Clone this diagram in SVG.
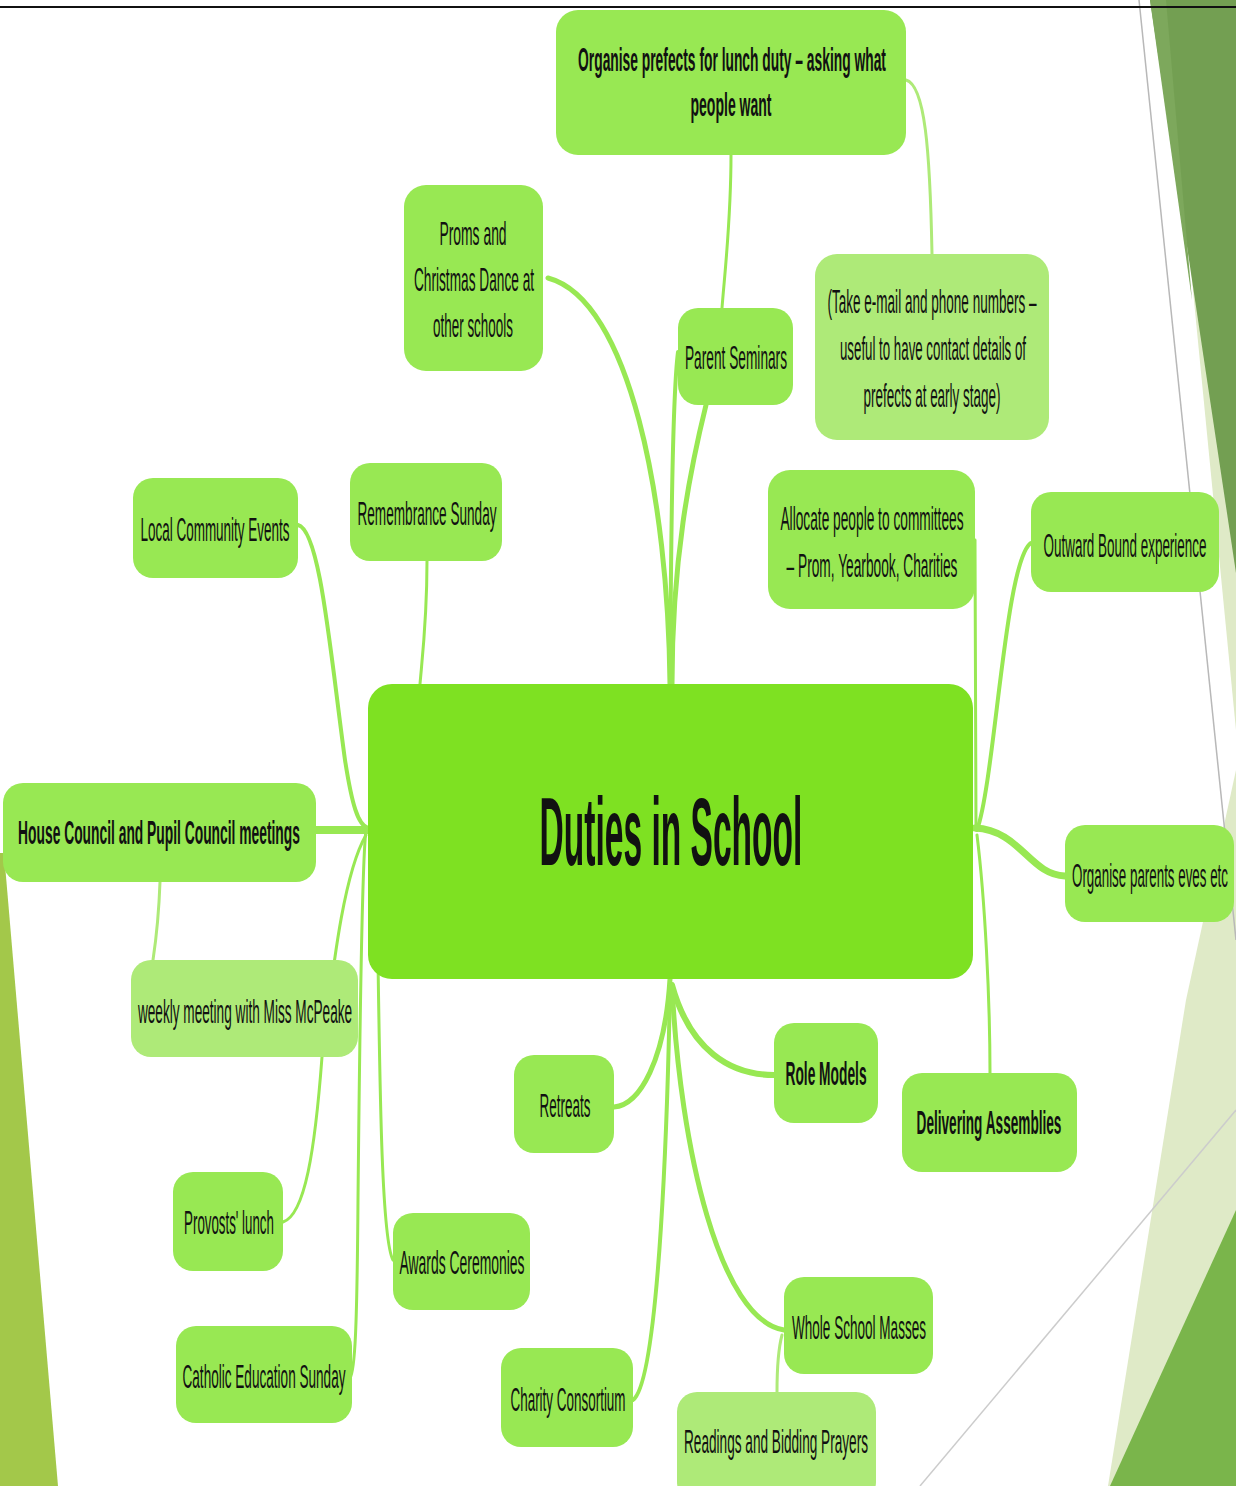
<svg xmlns="http://www.w3.org/2000/svg" width="1236" height="1486" viewBox="0 0 1236 1486">
<style>
.n{fill:#98e853}
.l{fill:#aeea78}
.c{fill:#7ee122}
text{font-family:"Liberation Sans",Arial,sans-serif;font-size:34px;fill:#111;text-anchor:middle}
.b{font-weight:bold}
.cn path{fill:none;stroke:#98e853;stroke-linecap:round}
.cn path.lt{stroke:#aeea78}
</style>
<rect width="1236" height="1486" fill="#ffffff"/>
<g id="background">
<polygon points="1191,270 1236,270 1236,730" fill="#dfeac7"/>
<polygon points="1236,770 1236,1486 1108,1486 1186,1000" fill="#dfeac7"/>
<polygon points="1150,0 1236,0 1236,573" fill="#739f52"/>
<polygon points="1150,0 1166,0 1192,300" fill="#7da85c"/>
<polygon points="1236,1210 1236,1486 1110,1486" fill="#7ab54b"/>
<polygon points="0,853 4,853 58,1486 0,1486" fill="#a3c84a"/>
<line x1="1139" y1="0" x2="1236" y2="940" stroke="#b8b8b8" stroke-width="1.5"/>
<line x1="1236" y1="1110" x2="920" y2="1486" stroke="#cccccc" stroke-width="1.5"/>
<line x1="0" y1="7" x2="1236" y2="7" stroke="#111" stroke-width="2"/>
</g>
<g id="connectors" class="cn">
<path d="M670,684 C668,500 630,300 548,278" stroke-width="5"/>
<path d="M672,684 C672,560 690,470 706,405" stroke-width="5"/>
<path d="M670,684 C671,560 672,400 678,352" stroke-width="4"/>
<path d="M731,155 C731,220 725,270 722,308" stroke-width="3"/>
<path class="lt" d="M906,80 C925,85 930,150 932,254" stroke-width="3"/>
<path d="M427,561 C427,620 422,660 420,684" stroke-width="3"/>
<path d="M298,525 C320,530 330,650 345,760 C352,805 358,825 368,828" stroke-width="4"/>
<path d="M316,830 L368,830" stroke-width="8"/>
<path class="lt" d="M160,882 C159,910 156,940 153,960" stroke-width="3"/>
<path d="M366,835 C340,880 330,1000 322,1057 C315,1150 305,1215 283,1222" stroke-width="3"/>
<path d="M366,830 C362,860 360,1000 358,1200 C357,1330 355,1370 350,1378" stroke-width="3"/>
<path d="M378,960 C380,1100 382,1240 393,1260" stroke-width="3"/>
<path d="M670,979 C665,1060 640,1105 614,1107" stroke-width="5"/>
<path d="M670,985 C668,1100 660,1380 633,1400" stroke-width="4"/>
<path d="M672,985 C690,1050 730,1075 774,1075" stroke-width="6"/>
<path d="M672,985 C680,1150 720,1320 784,1330" stroke-width="5"/>
<path class="lt" d="M782,1335 C778,1350 777,1370 777,1392" stroke-width="3"/>
<path d="M977,835 C985,900 990,1000 990,1073" stroke-width="3"/>
<path d="M975,540 C976,650 976,760 976,830" stroke-width="3"/>
<path d="M977,830 C995,780 1005,560 1031,543" stroke-width="4"/>
<path d="M975,828 C1020,830 1030,875 1065,876" stroke-width="7"/>
</g>
<g id="n-organise-prefects"><rect class="n" x="556" y="10" width="350" height="145" rx="22"/><text class="b" transform="translate(732,71) scale(0.42,1)" textLength="733" lengthAdjust="spacingAndGlyphs">Organise prefects for lunch duty – asking what</text><text class="b" transform="translate(731,116) scale(0.42,1)" textLength="193" lengthAdjust="spacingAndGlyphs">people want</text></g>
<g id="n-proms"><rect class="n" x="404" y="185" width="139" height="186" rx="22"/><text transform="translate(473,245) scale(0.42,1)" textLength="160" lengthAdjust="spacingAndGlyphs">Proms and</text><text transform="translate(474,291) scale(0.42,1)" textLength="286" lengthAdjust="spacingAndGlyphs">Christmas Dance at</text><text transform="translate(473,337) scale(0.42,1)" textLength="190" lengthAdjust="spacingAndGlyphs">other schools</text></g>
<g id="n-parent-seminars"><rect class="n" x="678" y="308" width="115" height="97" rx="20"/><text transform="translate(736,369) scale(0.42,1)" textLength="243" lengthAdjust="spacingAndGlyphs">Parent Seminars</text></g>
<g id="n-take-email"><rect class="l" x="815" y="254" width="234" height="186" rx="22"/><text transform="translate(932,313) scale(0.42,1)" textLength="498" lengthAdjust="spacingAndGlyphs">(Take e-mail and phone numbers –</text><text transform="translate(933,360) scale(0.42,1)" textLength="443" lengthAdjust="spacingAndGlyphs">useful to have contact details of</text><text transform="translate(932,407) scale(0.42,1)" textLength="326" lengthAdjust="spacingAndGlyphs">prefects at early stage)</text></g>
<g id="n-local-community"><rect class="n" x="133" y="478" width="165" height="100" rx="20"/><text transform="translate(215,541) scale(0.42,1)" textLength="355" lengthAdjust="spacingAndGlyphs">Local Community Events</text></g>
<g id="n-remembrance"><rect class="n" x="350" y="463" width="152" height="98" rx="20"/><text transform="translate(427,525) scale(0.42,1)" textLength="331" lengthAdjust="spacingAndGlyphs">Remembrance Sunday</text></g>
<g id="n-allocate"><rect class="n" x="768" y="470" width="207" height="139" rx="22"/><text transform="translate(872,530) scale(0.42,1)" textLength="436" lengthAdjust="spacingAndGlyphs">Allocate people to committees</text><text transform="translate(872,577) scale(0.42,1)" textLength="407" lengthAdjust="spacingAndGlyphs">– Prom, Yearbook, Charities</text></g>
<g id="n-outward-bound"><rect class="n" x="1031" y="492" width="188" height="100" rx="20"/><text transform="translate(1125,557) scale(0.42,1)" textLength="388" lengthAdjust="spacingAndGlyphs">Outward Bound experience</text></g>
<g id="n-central"><rect class="c" x="368" y="684" width="605" height="295" rx="24"/><text class="b" transform="translate(671,865) scale(0.35,1)" style="font-size:96px" textLength="751" lengthAdjust="spacingAndGlyphs">Duties in School</text></g>
<g id="n-parents-eves"><rect class="n" x="1065" y="825" width="169" height="97" rx="20"/><text transform="translate(1150,887) scale(0.39,1)" textLength="400" lengthAdjust="spacingAndGlyphs">Organise parents eves etc</text></g>
<g id="n-house-council"><rect class="n" x="3" y="783" width="313" height="99" rx="20"/><text class="b" transform="translate(159,844) scale(0.42,1)" textLength="671" lengthAdjust="spacingAndGlyphs">House Council and Pupil Council meetings</text></g>
<g id="n-weekly"><rect class="l" x="131" y="960" width="227" height="97" rx="20"/><text transform="translate(245,1023) scale(0.42,1)" textLength="510" lengthAdjust="spacingAndGlyphs">weekly meeting with Miss McPeake</text></g>
<g id="n-retreats"><rect class="n" x="514" y="1055" width="100" height="98" rx="20"/><text transform="translate(565,1117) scale(0.42,1)" textLength="121" lengthAdjust="spacingAndGlyphs">Retreats</text></g>
<g id="n-role-models"><rect class="n" x="774" y="1023" width="104" height="100" rx="20"/><text class="b" transform="translate(826,1085) scale(0.42,1)" textLength="193" lengthAdjust="spacingAndGlyphs">Role Models</text></g>
<g id="n-assemblies"><rect class="n" x="902" y="1073" width="175" height="99" rx="20"/><text class="b" transform="translate(989,1134) scale(0.42,1)" textLength="345" lengthAdjust="spacingAndGlyphs">Delivering Assemblies</text></g>
<g id="n-provosts"><rect class="n" x="173" y="1172" width="110" height="99" rx="20"/><text transform="translate(229,1234) scale(0.42,1)" textLength="214" lengthAdjust="spacingAndGlyphs">Provosts' lunch</text></g>
<g id="n-awards"><rect class="n" x="393" y="1213" width="137" height="97" rx="20"/><text transform="translate(462,1274) scale(0.42,1)" textLength="298" lengthAdjust="spacingAndGlyphs">Awards Ceremonies</text></g>
<g id="n-masses"><rect class="n" x="784" y="1277" width="149" height="97" rx="20"/><text transform="translate(859,1339) scale(0.42,1)" textLength="319" lengthAdjust="spacingAndGlyphs">Whole School Masses</text></g>
<g id="n-catholic-ed"><rect class="n" x="176" y="1326" width="176" height="97" rx="20"/><text transform="translate(264,1388) scale(0.42,1)" textLength="388" lengthAdjust="spacingAndGlyphs">Catholic Education Sunday</text></g>
<g id="n-charity"><rect class="n" x="501" y="1348" width="132" height="99" rx="20"/><text transform="translate(568,1411) scale(0.42,1)" textLength="274" lengthAdjust="spacingAndGlyphs">Charity Consortium</text></g>
<g id="n-readings"><rect class="l" x="677" y="1392" width="199" height="110" rx="20"/><text transform="translate(776,1453) scale(0.42,1)" textLength="438" lengthAdjust="spacingAndGlyphs">Readings and Bidding Prayers</text></g>
</svg>
